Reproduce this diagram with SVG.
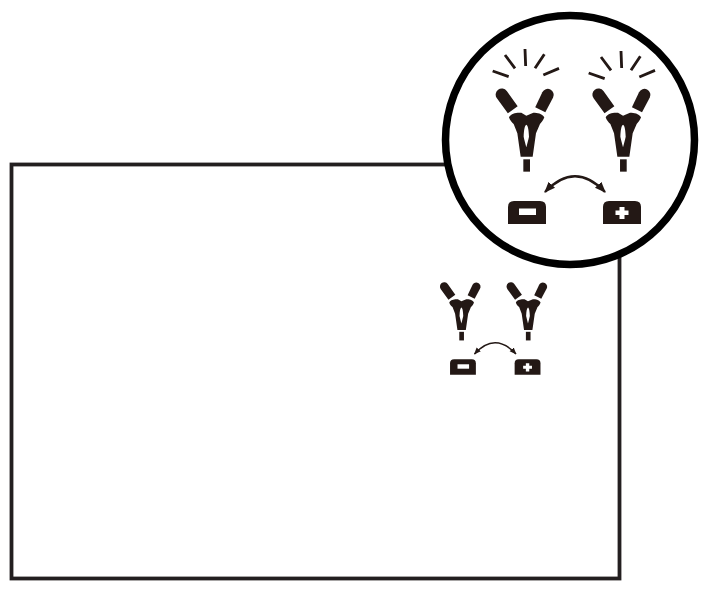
<svg xmlns="http://www.w3.org/2000/svg" width="702" height="606" viewBox="0 0 702 606">
<style>
.frame{fill:#fff;stroke:#231f20;stroke-width:3.800}
.lens{fill:#fff;stroke:#000;stroke-width:7.500}
.ink{fill:#231815}
.ray{fill:none;stroke:#231815;stroke-width:8.500;stroke-linecap:butt}
.arc{fill:none;stroke:#231815;stroke-width:2.300;marker-start:url(#a);marker-end:url(#a)}
.arc-small{fill:none;stroke:#231815;stroke-width:1.500;marker-start:url(#b);marker-end:url(#b)}
</style>
<defs>
<marker id="a" viewBox="0 0 10 10" refX="9" refY="5" markerWidth="11" markerHeight="11" orient="auto-start-reverse" markerUnits="userSpaceOnUse"><path d="M0 1L10 5L0 9Z" fill="#231815"/></marker>
<marker id="b" viewBox="0 0 10 10" refX="9" refY="5" markerWidth="7" markerHeight="7" orient="auto-start-reverse" markerUnits="userSpaceOnUse"><path d="M0 1L10 5L0 9Z" fill="#231815"/></marker>
<g id="clamp">
<path class="ink" d="M50.700 174.900A18.500 18.500 0 0 1 80.300 152.700L113 198.500L83.500 220Z"/>
<path class="ink" d="M187 156.500A18 18 0 0 1 219.300 172.500L196 216.500L165.700 201.500Z"/>
<path class="ink" d="M87 232C90 225 100 219 113 218H124L139 227L160 218C172 218 186 220 193 232C190 241 185 247 180 252L168 280L158 350H122L112 280L101 252C96 248 89 240 87 232ZM139 254C134 257 132 268 131 290C133 300 136 310 139 322C142 310 145 300 147 290C146 268 144 257 139 254Z" fill-rule="evenodd"/>
<rect class="ink" x="130" y="358" width="20" height="37"/>
</g>
<g id="rays">
<path class="ray" d="M38 93L86 110M75 45L105 85M135 27L137 78M193 43L165 85M237 85L190 105"/>
</g>
<g id="minus">
<path class="ink" d="M508 224V207Q508 201 514 201H540Q546 201 546 207V224Z"/>
<rect x="519" y="208.500" width="17" height="6.500" fill="#fff"/>
</g>
<g id="plus">
<path class="ink" d="M603 224V207Q603 201 609 201H635Q641 201 641 207V224Z"/>
<path d="M619.500 207H624.500V210.500H628.500V215H624.500V219H619.500V215H615.500V210.500H619.500Z" fill="#fff"/>
</g>
</defs>
<g id="frame"><rect class="frame" x="11.500" y="164.500" width="608" height="414"/></g>
<g id="small-clamps">
<use href="#clamp" transform="translate(429 248.400) scale(.233)"/>
<use href="#clamp" transform="translate(495.600 248.400) scale(.233)"/>
</g>
<g id="small-batteries">
<use href="#minus" transform="translate(104.600 222.500) scale(.68)"/>
<use href="#plus" transform="translate(104.600 222.500) scale(.68)"/>
</g>
<g id="lens"><circle class="lens" cx="570" cy="140" r="124.500"/></g>
<g id="large-clamps">
<use href="#clamp" transform="translate(480 40) scale(.3333)"/>
<use href="#clamp" transform="translate(576.700 40) scale(.3333)"/>
<use href="#rays" transform="translate(480 40) scale(.3333)"/>
<use href="#rays" transform="translate(576 42) scale(.3333)"/>
</g>
<g id="large-batteries">
<use href="#minus"/>
<use href="#plus"/>
</g>
<g id="connectors">
<path class="arc" d="M545 192C565 171 585 171 605 192"/>
<path class="arc-small" d="M474.500 354C488 339 502 339 516 354"/>
</g>
</svg>
